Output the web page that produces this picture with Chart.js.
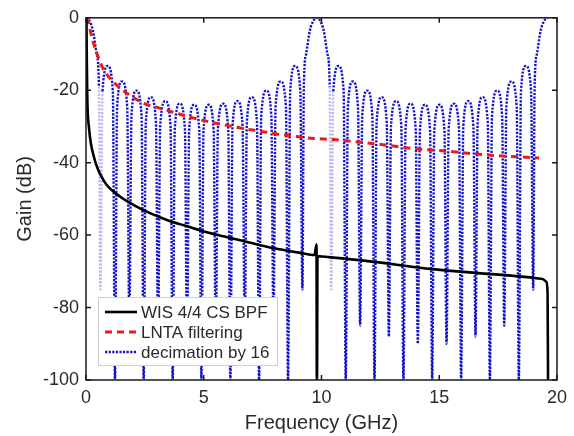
<!DOCTYPE html>
<html>
<head>
<meta charset="utf-8">
<title>Gain vs Frequency</title>
<script src="https://cdn.jsdelivr.net/npm/chart.js@4.4.1/dist/chart.umd.min.js"></script>
<style>
  html, body { margin: 0; padding: 0; background: #fff; }
  #wrap { width: 574px; height: 436px; }
</style>
</head>
<body>
<div id="wrap"><canvas id="chart" width="574" height="436"></canvas></div>
<script>
// --- Data ---
const xTicks = [0, 5, 10, 15, 20];
const yTicks = [-100, -80, -60, -40, -20, 0];
const seriesLabels = ['WIS 4/4 CS BPF', 'LNTA filtering', 'decimation by 16'];

// [frequency GHz, gain dB]
const wisBpf = [
  [0.02, 0], [0.035, -12], [0.055, -22], [0.13, -30.5], [0.34, -38.5], [0.76, -45],
  [1.33, -48.8], [2.03, -51.7], [2.74, -54], [3.44, -55.8], [4.15, -57.3], [4.86, -58.7],
  [5.56, -59.9], [6.27, -61], [6.98, -62.1], [7.68, -63.2], [8.39, -64.1], [9.1, -64.9],
  [9.7, -65.5], [9.79, -62.5], [9.8, -100], [9.81, -100], [9.83, -65.8], [10.0, -65.9],
  [11.89, -67.1], [14.72, -69.4], [17.54, -70.9], [19.38, -72.1], [19.55, -72.9],
  [19.6, -76], [19.62, -100]
];

const lntaFilter = [
  [0, 0], [0.085, -1], [0.25, -5.4], [0.47, -10], [0.72, -14], [1.26, -18.3],
  [1.75, -20.9], [2.46, -23.6], [3.16, -25], [3.87, -26.4], [4.58, -27.7], [5.28, -28.8],
  [5.99, -29.7], [6.69, -30.6], [7.4, -31.3], [8.1, -32.1], [8.81, -32.7], [9.66, -33.3],
  [10.48, -33.6], [11.89, -34.5], [13.3, -35.6], [13.87, -36.1], [15.28, -36.8],
  [16.69, -37.7], [18.1, -38.3], [19.24, -38.7]
];

const decimation = [
  [0, 0], [0.15, -0.9], [0.3, -3.7], [0.45, -9.9], [0.55, -19],
  [0.61, -75],
  [0.70, -20.3], [0.92, -13.3], [1.14, -20.3],
  [1.23, -100],
  [1.32, -24.6], [1.53, -17.6], [1.75, -24.6],
  [1.84, -85],
  [1.93, -27.1], [2.14, -20.1], [2.36, -27.1],
  [2.45, -100],
  [2.54, -28.9], [2.76, -21.9], [2.97, -28.9],
  [3.06, -88],
  [3.15, -30], [3.37, -23], [3.59, -30],
  [3.68, -100],
  [3.77, -30.7], [3.98, -23.7], [4.20, -30.7],
  [4.29, -90],
  [4.38, -31], [4.59, -24], [4.81, -31],
  [4.90, -100],
  [4.99, -31], [5.21, -24], [5.42, -31],
  [5.51, -90],
  [5.60, -30.7], [5.82, -23.7], [6.04, -30.7],
  [6.13, -100],
  [6.22, -30], [6.43, -23], [6.65, -30],
  [6.74, -88],
  [6.83, -28.9], [7.04, -21.9], [7.26, -28.9],
  [7.35, -100],
  [7.44, -27.1], [7.66, -20.1], [7.87, -27.1],
  [7.96, -85],
  [8.05, -24.6], [8.27, -17.6], [8.49, -24.6],
  [8.58, -100],
  [8.67, -20.3], [8.88, -13.3], [9.10, -20.3],
  [9.19, -75],
  [9.25, -19], [9.35, -9.9], [9.5, -3.7], [9.65, -0.9], [9.8, 0],
  [9.95, -0.9], [10.1, -3.7], [10.25, -9.9], [10.35, -19],
  [10.41, -75],
  [10.50, -20.3], [10.72, -13.3], [10.94, -20.3],
  [11.03, -100],
  [11.12, -24.6], [11.33, -17.6], [11.55, -24.6],
  [11.64, -85],
  [11.73, -27.1], [11.94, -20.1], [12.16, -27.1],
  [12.25, -100],
  [12.34, -28.9], [12.56, -21.9], [12.77, -28.9],
  [12.86, -88],
  [12.95, -30], [13.17, -23], [13.39, -30],
  [13.48, -100],
  [13.57, -30.7], [13.78, -23.7], [14.00, -30.7],
  [14.09, -90],
  [14.18, -31], [14.39, -24], [14.61, -31],
  [14.70, -100],
  [14.79, -31], [15.01, -24], [15.22, -31],
  [15.31, -90],
  [15.40, -30.7], [15.62, -23.7], [15.84, -30.7],
  [15.93, -100],
  [16.02, -30], [16.23, -23], [16.45, -30],
  [16.54, -88],
  [16.63, -28.9], [16.84, -21.9], [17.06, -28.9],
  [17.15, -100],
  [17.24, -27.1], [17.46, -20.1], [17.67, -27.1],
  [17.76, -85],
  [17.85, -24.6], [18.07, -17.6], [18.29, -24.6],
  [18.38, -100],
  [18.47, -20.3], [18.68, -13.3], [18.90, -20.3],
  [18.99, -75],
  [19.05, -19], [19.15, -9.9], [19.3, -3.7], [19.45, -0.9], [19.6, 0]
];

// nulls that come out pale in the original rendering
const fadedNulls = [0.61, 10.41];

// --- Style ---
const FONT = "'Liberation Sans', Arial, sans-serif";
const TEXT = '#2a2a2a';
const BLUE = '#1212c8';
const BLUE_FADED = 'rgba(60, 60, 220, 0.35)';

const toXY = arr => arr.map(([x, y]) => ({ x, y }));
const isFaded = v => fadedNulls.some(f => Math.abs(f - v) < 1e-6);

// --- Frame with inward ticks on all four sides ---
const framePlugin = {
  id: 'frame',
  afterDatasetsDraw(chart) {
    const { ctx, chartArea: a, scales: { x, y } } = chart;
    ctx.save();
    ctx.strokeStyle = '#1a1a1a';
    ctx.lineWidth = 1.5;
    ctx.strokeRect(a.left, a.top, a.right - a.left, a.bottom - a.top);
    ctx.beginPath();
    x.ticks.forEach(t => {
      const px = x.getPixelForValue(t.value);
      ctx.moveTo(px, a.bottom); ctx.lineTo(px, a.bottom - 5);
      ctx.moveTo(px, a.top); ctx.lineTo(px, a.top + 5);
    });
    y.ticks.forEach(t => {
      const py = y.getPixelForValue(t.value);
      ctx.moveTo(a.left, py); ctx.lineTo(a.left + 5, py);
      ctx.moveTo(a.right, py); ctx.lineTo(a.right - 5, py);
    });
    ctx.stroke();
    ctx.restore();
  }
};

// --- Legend box in the lower-left of the plot ---
const boxLegend = {
  id: 'boxLegend',
  afterDraw(chart) {
    const { ctx, chartArea: a } = chart;
    const bx = a.left + 12, by = a.bottom - 83, bw = 179, bh = 68;
    ctx.save();
    ctx.fillStyle = '#fff';
    ctx.fillRect(bx, by, bw, bh);
    ctx.strokeStyle = '#cfcfcf';
    ctx.lineWidth = 1;
    ctx.strokeRect(bx + 0.5, by + 0.5, bw, bh);
    ctx.font = `17px ${FONT}`;
    ctx.textBaseline = 'middle';
    ctx.fillStyle = TEXT;
    chart.data.datasets.forEach((ds, i) => {
      const ry = by + 15 + i * 20;
      ctx.beginPath();
      ctx.strokeStyle = ds.borderColor;
      ctx.lineWidth = ds.borderWidth;
      ctx.setLineDash(ds.borderDash || []);
      ctx.moveTo(bx + 7, ry);
      ctx.lineTo(bx + 39, ry);
      ctx.stroke();
      ctx.setLineDash([]);
      ctx.fillText(ds.label, bx + 43, ry + 1);
    });
    ctx.restore();
  }
};

new Chart(document.getElementById('chart'), {
  type: 'line',
  data: {
    datasets: [
      {
        label: seriesLabels[0],
        data: toXY(wisBpf),
        borderColor: '#000',
        borderWidth: 2.6,
        pointRadius: 0,
        cubicInterpolationMode: 'monotone',
      },
      {
        label: seriesLabels[1],
        data: toXY(lntaFilter),
        borderColor: '#ec1b1b',
        borderWidth: 3,
        borderDash: [7, 5],
        pointRadius: 0,
        cubicInterpolationMode: 'monotone',
      },
      {
        label: seriesLabels[2],
        data: toXY(decimation),
        borderColor: BLUE,
        borderWidth: 2.4,
        borderDash: [2.2, 1.4],
        pointRadius: 0,
        cubicInterpolationMode: 'monotone',
        segment: {
          borderColor: c => (isFaded(c.p0.parsed.x) || isFaded(c.p1.parsed.x)) ? BLUE_FADED : undefined,
        },
      },
    ],
  },
  options: {
    responsive: false,
    animation: false,
    events: [],
    layout: { padding: { top: 12, right: 15, bottom: 0, left: 0 } },
    plugins: {
      legend: { display: false },
      tooltip: { enabled: false },
    },
    scales: {
      x: {
        type: 'linear',
        min: 0,
        max: 20,
        afterBuildTicks: s => { s.ticks = xTicks.map(v => ({ value: v })); },
        afterFit: s => { s.height = 56; },
        grid: { display: false, drawTicks: false },
        border: { display: false },
        ticks: { padding: 7, color: TEXT, maxRotation: 0, font: { family: FONT, size: 18 } },
        title: {
          display: true,
          text: 'Frequency (GHz)',
          color: TEXT,
          font: { family: FONT, size: 20 },
          padding: { top: 0, bottom: 1 },
        },
      },
      y: {
        type: 'linear',
        min: -100,
        max: 0,
        afterBuildTicks: s => { s.ticks = yTicks.map(v => ({ value: v })); },
        afterFit: s => { s.width = 86; },
        grid: { display: false, drawTicks: false },
        border: { display: false },
        ticks: { padding: 7, color: TEXT, font: { family: FONT, size: 18 } },
        title: {
          display: true,
          text: 'Gain (dB)',
          color: TEXT,
          font: { family: FONT, size: 20 },
          padding: { top: 13, bottom: 0 },
        },
      },
    },
  },
  plugins: [framePlugin, boxLegend],
});
</script>
</body>
</html>
